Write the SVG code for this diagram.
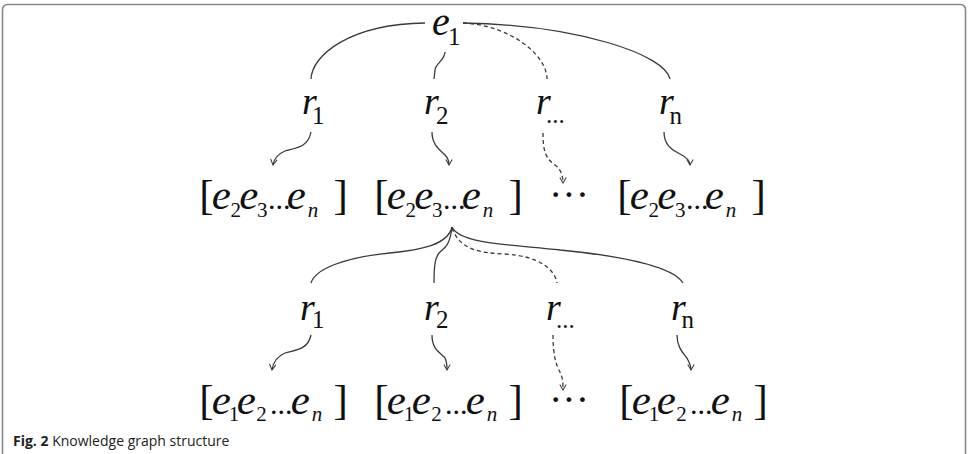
<svg xmlns="http://www.w3.org/2000/svg" width="970" height="454" viewBox="0 0 970 454">
<defs>
<style>
text.m{font-family:'Liberation Serif','Times New Roman',serif;fill:#111}
.i{font-style:italic}
.e1{font-size:40px}
.big{font-size:43px}
.lab{font-size:38px}
.sub{font-size:21px}
.rs{font-size:25px}
.dd{font-size:30px}
.c{fill:none;stroke:#3a3a3a;stroke-width:1.3}
.d{stroke-dasharray:4 3}
.frame{fill:none;stroke:#888;stroke-width:1.6}
text.cap{font-family:'Open Sans','Noto Sans','Liberation Sans',sans-serif;font-size:14px;fill:#222}
</style>
<marker id="ah" viewBox="0 0 10 10" refX="8" refY="5" markerWidth="8" markerHeight="8" markerUnits="userSpaceOnUse" orient="auto">
<path d="M1,1 L8,5 L1,9" fill="none" stroke="#3a3a3a" stroke-width="1.3"/>
</marker>
</defs>
<rect width="970" height="454" fill="#fff"/>
<path class="frame" d="M2.5,454 L2.5,10 Q2.5,4.5 8,4.5 L960,4.5 Q965.5,4.5 965.5,10 L965.5,454"/>

<g id="connectors">
<path class="c" d="M425,23 C350,24 312,55 311,79"/>
<path class="c" d="M445,52 C445,60 435,64 435,70 L434,79"/>
<path class="c d" d="M463,23 C510,25 547,55 547,79"/>
<path class="c" d="M463,23 C580,25 665,55 670,79"/>

<path class="c" marker-end="url(#ah)" d="M311,132 C308,148 295,148 285,151 C278,154 274,158 273,165"/>
<path class="c" marker-end="url(#ah)" d="M432,132 C432,145 440,150 445,155 C448,158 449,161 449,165"/>
<path class="c d" marker-end="url(#ah)" d="M543,133 C543,150 545,158 555,165 C562,170 563,178 563,183"/>
<path class="c" marker-end="url(#ah)" d="M664,132 C664,145 672,150 680,154 C688,158 690,161 690,165"/>

<path class="c" d="M452,227 C448,245 420,250 390,253 C340,258 315,270 311,283"/>
<path class="c" d="M452,227 C450,245 445,248 440,252 C435,257 434,265 434,283"/>
<path class="c d" d="M452,228 C460,250 480,253 505,254 C540,256 555,270 557,283"/>
<path class="c" d="M452,227 C460,245 520,245 560,250 C640,258 675,270 683,283"/>

<path class="c" marker-end="url(#ah)" d="M311,335 C308,350 295,350 285,353 C278,356 273,362 272,370"/>
<path class="c" marker-end="url(#ah)" d="M432,335 C432,350 440,352 445,358 C447,362 447,366 447,370"/>
<path class="c d" marker-end="url(#ah)" d="M553,335 C553,355 556,365 560,372 C563,378 563,385 563,390"/>
<path class="c" marker-end="url(#ah)" d="M677,335 C677,350 686,355 688,360 C690,364 691,367 691,370"/>
</g>

<g id="e1"><text class="m"><tspan class="i e1" x="432" y="35">e</tspan><tspan class="rs" x="448" y="45">1</tspan></text></g>

<g id="r1-top"><text class="m"><tspan class="i lab" x="302" y="114">r</tspan><tspan class="rs" x="312" y="124">1</tspan></text></g>
<g id="r2-top"><text class="m"><tspan class="i lab" x="424" y="114">r</tspan><tspan class="rs" x="436" y="124">2</tspan></text></g>
<g id="rdots-top"><text class="m"><tspan class="i lab" x="536" y="114">r</tspan><tspan class="rs" x="546" y="123">...</tspan></text></g>
<g id="rn-top"><text class="m"><tspan class="i lab" x="659" y="114">r</tspan><tspan class="rs" x="669.5" y="124">n</tspan></text></g>

<g id="set1-top" transform="translate(-175,0)"><text class="m"><tspan class="big" x="374.2" y="208.5">[</tspan><tspan class="i big" x="386.7">e</tspan><tspan class="sub" x="405.6" y="217">2</tspan><tspan class="i big" x="414.2" y="208.5">e</tspan><tspan class="sub" x="432.1" y="217">3</tspan><tspan class="dd" x="442.9" y="208.5">...</tspan><tspan class="i big" x="461.7">e</tspan><tspan class="i sub" x="482.7" y="217">n</tspan><tspan class="big" x="508.5" y="208.5">]</tspan></text></g>
<g id="set2-top"><text class="m"><tspan class="big" x="374.2" y="208.5">[</tspan><tspan class="i big" x="386.7">e</tspan><tspan class="sub" x="405.6" y="217">2</tspan><tspan class="i big" x="414.2" y="208.5">e</tspan><tspan class="sub" x="432.1" y="217">3</tspan><tspan class="dd" x="442.9" y="208.5">...</tspan><tspan class="i big" x="461.7">e</tspan><tspan class="i sub" x="482.7" y="217">n</tspan><tspan class="big" x="508.5" y="208.5">]</tspan></text></g>
<g id="dots-top"><text class="m" font-size="40" x="549" y="208">···</text></g>
<g id="set4-top" transform="translate(243,0)"><text class="m"><tspan class="big" x="374.2" y="208.5">[</tspan><tspan class="i big" x="386.7">e</tspan><tspan class="sub" x="405.6" y="217">2</tspan><tspan class="i big" x="414.2" y="208.5">e</tspan><tspan class="sub" x="432.1" y="217">3</tspan><tspan class="dd" x="442.9" y="208.5">...</tspan><tspan class="i big" x="461.7">e</tspan><tspan class="i sub" x="482.7" y="217">n</tspan><tspan class="big" x="508.5" y="208.5">]</tspan></text></g>

<g id="r1-bot"><text class="m"><tspan class="i lab" x="300" y="320">r</tspan><tspan class="rs" x="312" y="328">1</tspan></text></g>
<g id="r2-bot"><text class="m"><tspan class="i lab" x="424" y="320">r</tspan><tspan class="rs" x="436" y="328">2</tspan></text></g>
<g id="rdots-bot"><text class="m"><tspan class="i lab" x="546" y="320">r</tspan><tspan class="rs" x="556" y="328">...</tspan></text></g>
<g id="rn-bot"><text class="m"><tspan class="i lab" x="671" y="320">r</tspan><tspan class="rs" x="681.5" y="328">n</tspan></text></g>

<g id="set1-bot" transform="translate(-175,0)"><text class="m"><tspan class="big" x="374.2" y="413.5">[</tspan><tspan class="i big" x="386.7">e</tspan><tspan class="sub" x="403.8" y="421">1</tspan><tspan class="i big" x="411.7" y="413.5">e</tspan><tspan class="sub" x="431.3" y="421">2</tspan><tspan class="dd" x="444.9" y="413.5">...</tspan><tspan class="i big" x="465.7">e</tspan><tspan class="i sub" x="486.7" y="421">n</tspan><tspan class="big" x="508.5" y="413.5">]</tspan></text></g>
<g id="set2-bot"><text class="m"><tspan class="big" x="374.2" y="413.5">[</tspan><tspan class="i big" x="386.7">e</tspan><tspan class="sub" x="403.8" y="421">1</tspan><tspan class="i big" x="411.7" y="413.5">e</tspan><tspan class="sub" x="431.3" y="421">2</tspan><tspan class="dd" x="444.9" y="413.5">...</tspan><tspan class="i big" x="465.7">e</tspan><tspan class="i sub" x="486.7" y="421">n</tspan><tspan class="big" x="508.5" y="413.5">]</tspan></text></g>
<g id="dots-bot"><text class="m" font-size="40" x="549" y="413">···</text></g>
<g id="set4-bot" transform="translate(245,0)"><text class="m"><tspan class="big" x="374.2" y="413.5">[</tspan><tspan class="i big" x="386.7">e</tspan><tspan class="sub" x="403.8" y="421">1</tspan><tspan class="i big" x="411.7" y="413.5">e</tspan><tspan class="sub" x="431.3" y="421">2</tspan><tspan class="dd" x="444.9" y="413.5">...</tspan><tspan class="i big" x="465.7">e</tspan><tspan class="i sub" x="486.7" y="421">n</tspan><tspan class="big" x="508.5" y="413.5">]</tspan></text></g>

<g id="caption"><text class="cap" x="13" y="446"><tspan font-weight="bold">Fig. 2</tspan> Knowledge graph structure</text></g>
</svg>
